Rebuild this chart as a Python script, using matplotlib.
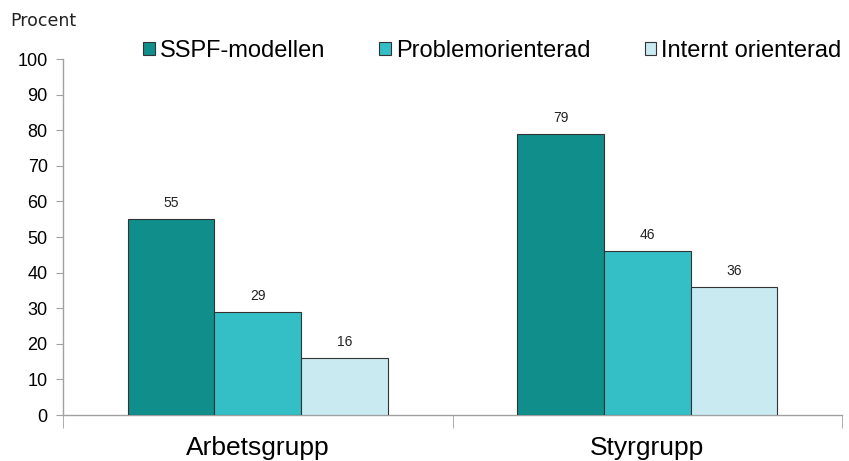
import matplotlib.pyplot as plt
import numpy as np
from matplotlib.ticker import FixedLocator

# data
categories = ["Arbetsgrupp", "Styrgrupp"]
series_names = ["SSPF-modellen", "Problemorienterad", "Internt orienterad"]
values = {
    "SSPF-modellen": [55, 79],
    "Problemorienterad": [29, 46],
    "Internt orienterad": [16, 36],
}
colors = ["#0F8E8B", "#34BFC6", "#CAEAF2"]

plt.rcParams['font.family'] = ['Liberation Sans', 'DejaVu Sans']

fig = plt.figure(figsize=(8.49, 4.61), dpi=100)
ax = fig.add_axes([63 / 849, 1 - 415 / 461, (842 - 63) / 849, (415 - 59) / 461])

x = np.arange(len(categories))
w = 2 / 3 / 3
for i, name in enumerate(series_names):
    pos = x + (i - 1) * w
    bars = ax.bar(pos, values[name], width=w, color=colors[i],
                  edgecolor="#333333", linewidth=0.8, label=name, zorder=3)
    for b, v in zip(bars, values[name]):
        ax.annotate(str(v), (b.get_x() + b.get_width() / 2, b.get_height()),
                    xytext=(0, 6.5), textcoords="offset points",
                    ha="center", va="bottom", fontsize=10, color="#222222")

ax.set_xlim(-0.5, 1.5)
ax.set_ylim(0, 100)
ax.set_yticks(range(0, 101, 10))
ax.tick_params(axis='y', labelsize=13, length=5, color="#A0A0A0", pad=6)

ax.set_xticks(x)
ax.set_xticklabels(categories, fontsize=19)
ax.xaxis.set_minor_locator(FixedLocator([-0.5, 0.5, 1.5]))
ax.tick_params(axis='x', which='major', length=0, pad=15)
ax.tick_params(axis='x', which='minor', length=9, color="#A0A0A0")

for s in ["top", "right"]:
    ax.spines[s].set_visible(False)
for s in ["left", "bottom"]:
    ax.spines[s].set_color("#A0A0A0")
    ax.spines[s].set_linewidth(1.0)

fig.text(10 / 849, 1 - 21 / 461, "Procent", fontsize=12.5,
         family="DejaVu Sans", va="center", ha="left", color="#222222")

fig.legend(loc="center left", bbox_to_anchor=(143 / 849, 1 - 51 / 461),
           ncol=3, frameon=False, fontsize=17, handlelength=0.5,
           handleheight=0.5, handletextpad=0.2, columnspacing=2.3,
           borderaxespad=0, borderpad=0)

fig.savefig("out.png", dpi=100)
